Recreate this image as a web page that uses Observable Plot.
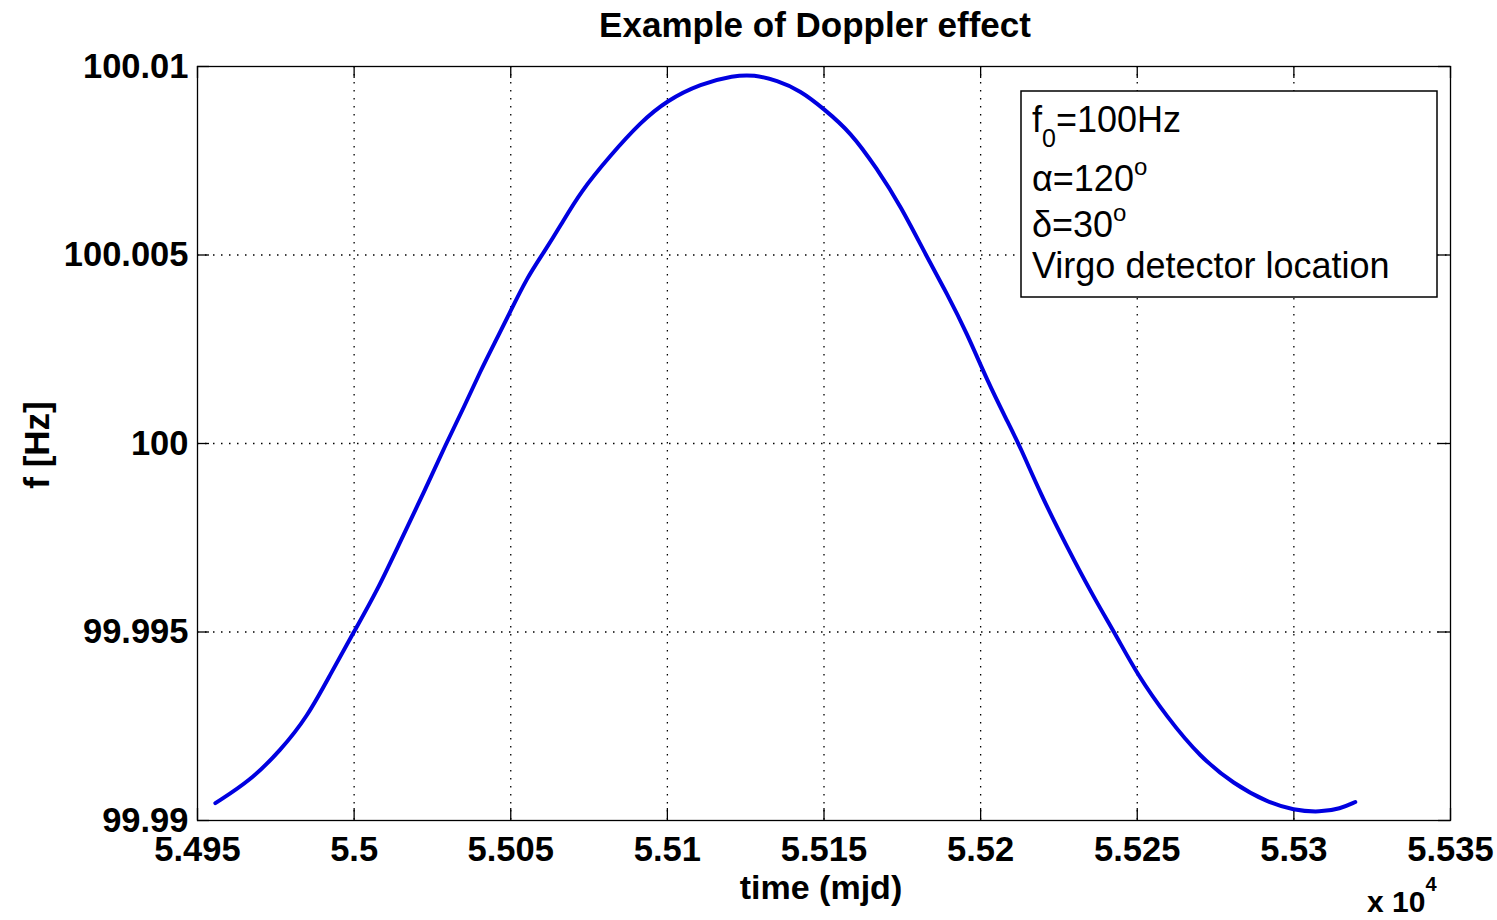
<!DOCTYPE html>
<html><head><meta charset="utf-8">
<script src="https://cdn.jsdelivr.net/npm/d3@7"></script>
<script src="https://cdn.jsdelivr.net/npm/@observablehq/plot@0.6"></script>
<style>body{margin:0;background:#fff} svg{display:block}</style>
</head><body><div id="chart"></div>
<script>
// Data
const timeMjd = [54955.7, 54966.9, 54976.5, 54985.0, 54992.5, 54999.9, 55007.4, 55015.3, 55022.2, 55029.2,
  55035.0, 55040.3, 55045.1, 55049.4, 55055.2, 55060.5, 55065.9, 55072.2, 55081.8, 55091.4,
  55099.9, 55110.6, 55121.2, 55127.6, 55135.0, 55142.5, 55149.9, 55158.5, 55166.9, 55174.4,
  55182.9, 55189.3, 55195.7, 55202.1, 55208.4, 55212.7, 55219.1, 55227.6, 55236.1, 55243.6,
  55249.9, 55259.5, 55270.1, 55280.8, 55291.4, 55299.9, 55308.4, 55314.8, 55319.6];
const freqHz = [99.99046, 99.99106, 99.99186, 99.99274, 99.99389, 99.99500, 99.99610, 99.99750, 99.99869, 99.99997,
  100.00095, 100.00192, 100.00271, 100.00342, 100.00440, 100.00506, 100.00578, 100.00667, 100.00764, 100.00852,
  100.00910, 100.00954, 100.00976, 100.00978, 100.00963, 100.00936, 100.00888, 100.00826, 100.00729, 100.00631,
  100.00494, 100.00397, 100.00291, 100.00167, 100.00061, 99.99990, 99.99867, 99.99725, 99.99592, 99.99486,
  99.99389, 99.99274, 99.99168, 99.99097, 99.99049, 99.99027, 99.99022, 99.99031, 99.99049];
const xTicks = [54950, 55000, 55050, 55100, 55150, 55200, 55250, 55300, 55350];
const yTicks = [99.99, 99.995, 100, 100.005, 100.01];
const titleText = "Example of Doppler effect";
const xLabel = "time (mjd)";
const yLabel = "f [Hz]";
const legendParams = [["f", "0", "=100Hz", ""], ["α=120", "", "", "o"], ["δ=30", "", "", "o"], ["Virgo detector location", "", "", ""]];

const W = 1497, H = 920, mL = 197, mR = 47, mT = 66, mB = 100;
const xDom = [54950, 55350], yDom = [99.99, 100.01];
const tickLenX = (xDom[1] - xDom[0]) * 12 / (W - mL - mR);
const tickLenY = (yDom[1] - yDom[0]) * 12 / (H - mT - mB);
const data = timeMjd.map((t, i) => ({t, f: freqHz[i]}));
const gridStyle = {stroke: "#000", strokeOpacity: 1, strokeWidth: 1.3, strokeDasharray: "1.5,6.5"};

const chart = Plot.plot({
  width: W, height: H, marginLeft: mL, marginRight: mR, marginTop: mT, marginBottom: mB,
  style: {background: "#fff", color: "#000", fontFamily: "'Liberation Sans', Arial, sans-serif"},
  x: {domain: xDom}, y: {domain: yDom},
  marks: [
    Plot.gridX(xTicks.slice(1, -1), gridStyle),
    Plot.gridY(yTicks.slice(1, -1), gridStyle),
    Plot.ruleX(xTicks, {x: d => d, y1: yDom[0], y2: yDom[0] + tickLenY, stroke: "#000", strokeWidth: 1.3}),
    Plot.ruleX(xTicks, {x: d => d, y1: yDom[1] - tickLenY, y2: yDom[1], stroke: "#000", strokeWidth: 1.3}),
    Plot.ruleY(yTicks, {y: d => d, x1: xDom[0], x2: xDom[0] + tickLenX, stroke: "#000", strokeWidth: 1.3}),
    Plot.ruleY(yTicks, {y: d => d, x1: xDom[1] - tickLenX, x2: xDom[1], stroke: "#000", strokeWidth: 1.3}),
    Plot.line(data, {x: "t", y: "f", stroke: "#0000e0", strokeWidth: 4, curve: "basis"}),
    Plot.frame({stroke: "#000", strokeWidth: 1.3}),
    Plot.axisX(xTicks, {tickSize: 0, tickPadding: 16, fontSize: 34.5, fontWeight: "bold",
      tickFormat: d => String(+(d / 1e4).toFixed(4)), label: null}),
    Plot.axisY(yTicks, {tickSize: 0, tickPadding: 9, fontSize: 34.5, fontWeight: "bold",
      tickFormat: d => String(+d.toFixed(3)), label: null})
  ]
});
document.getElementById("chart").appendChild(chart);

const svg = d3.select(chart);
const ff = "'Liberation Sans', Arial, sans-serif";
svg.append("text").attr("x", 815).attr("y", 37).attr("text-anchor", "middle")
  .attr("font-family", ff).attr("font-weight", "bold").attr("font-size", 35).attr("fill", "#000").text(titleText);
svg.append("text").attr("x", 821).attr("y", 899).attr("text-anchor", "middle")
  .attr("font-family", ff).attr("font-weight", "bold").attr("font-size", 34).attr("fill", "#000").text(xLabel);
svg.append("text").attr("transform", "translate(49,445) rotate(-90)").attr("text-anchor", "middle")
  .attr("font-family", ff).attr("font-weight", "bold").attr("font-size", 35).attr("fill", "#000").text(yLabel);
const ex = svg.append("text").attr("x", 1367).attr("y", 912).attr("text-anchor", "start")
  .attr("font-family", ff).attr("font-weight", "bold").attr("font-size", 30).attr("fill", "#000");
ex.append("tspan").text("x 10");
ex.append("tspan").attr("font-size", 20).attr("dy", -21).text("4");

// legend box
svg.append("rect").attr("x", 1021).attr("y", 91).attr("width", 416).attr("height", 206)
  .attr("fill", "#fff").attr("stroke", "#000").attr("stroke-width", 1.5);
const baselines = [132, 191, 237, 278];
legendParams.forEach(([main, sub, rest, sup], i) => {
  const t = svg.append("text").attr("x", 1032).attr("y", baselines[i]).attr("text-anchor", "start")
    .attr("font-family", ff).attr("font-size", 36).attr("fill", "#000");
  t.append("tspan").text(main);
  if (sub) {
    t.append("tspan").attr("font-size", 25).attr("dy", 15).text(sub);
    t.append("tspan").attr("dy", -15).text(rest);
  }
  if (sup) t.append("tspan").attr("font-size", 24).attr("dy", -16).text(sup);
});
</script></body></html>
